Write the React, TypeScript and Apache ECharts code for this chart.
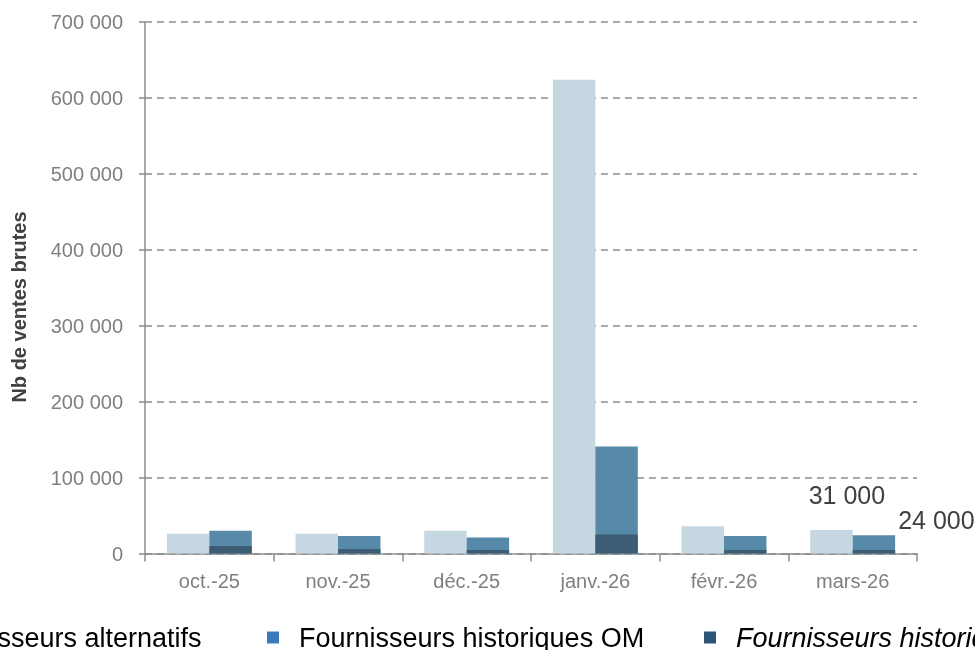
import React, { useEffect, useRef } from "react";
import * as echarts from "echarts";

const categories = ["oct.-25", "nov.-25", "déc.-25", "janv.-26", "févr.-26", "mars-26"];
const alternatifs = [26000, 26000, 30000, 624000, 36000, 31000];
const historiquesOM = [30000, 23000, 21000, 141000, 23000, 24000];
const historiquesSub = [10000, 6000, 4500, 25000, 4500, 4500];
const seriesNames = [
  "Fournisseurs alternatifs",
  "Fournisseurs historiques OM",
  "Fournisseurs historiques hors OM",
];
const labelIndex = 5;

const fmt = (v: number) => String(v).replace(/\B(?=(\d{3})+(?!\d))/g, " ");
const FONT = "'Liberation Sans', Arial, sans-serif";

export default function App() {
  const ref = useRef<HTMLDivElement>(null);
  useEffect(() => {
    if (!ref.current) return;
    const chart = echarts.init(ref.current, undefined, { renderer: "svg" });
    const axisGrey = "#8c8c8c";
    const labelStyle = (dx: number, dy: number) => ({
      show: true,
      position: "top",
      distance: 0,
      offset: [dx, dy],
      formatter: (p: any) => fmt(p.value),
      color: "#404040",
      fontSize: 25,
      fontFamily: FONT,
    });
    const legendBase = {
      orient: "horizontal",
      top: 624,
      padding: 0,
      itemWidth: 12,
      itemHeight: 12,
      icon: "rect",
      selectedMode: false,
      textStyle: { fontSize: 27, color: "#000", fontFamily: FONT, padding: [0, 0, 0, 15] },
    };
    chart.setOption({
      animation: false,
      textStyle: { fontFamily: FONT },
      grid: { left: 145, right: 58, top: 22, bottom: 96.5, containLabel: false },
      legend: [
        {
          ...legendBase,
          left: -111,
          data: [{ name: seriesNames[0], itemStyle: { color: "#c6d7e1" } }],
        },
        {
          ...legendBase,
          left: 267,
          data: [{ name: seriesNames[1], itemStyle: { color: "#3a7cbb" } }],
        },
        {
          ...legendBase,
          left: 704,
          data: [
            {
              name: seriesNames[2],
              itemStyle: { color: "#2b5478" },
              textStyle: { fontStyle: "italic" },
            },
          ],
        },
      ],
      xAxis: [
        {
          type: "category",
          data: categories,
          axisLine: { lineStyle: { color: axisGrey, width: 1.5 } },
          axisTick: { show: true, length: 8, lineStyle: { color: axisGrey, width: 1.5 } },
          axisLabel: { color: "#7f7f7f", fontSize: 20, margin: 17, fontFamily: FONT },
        },
        { type: "category", data: categories, show: false },
      ],
      yAxis: {
        type: "value",
        min: 0,
        max: 700000,
        interval: 100000,
        axisLine: { show: true, lineStyle: { color: axisGrey, width: 1.5 } },
        axisTick: { show: true, length: 6, lineStyle: { color: axisGrey, width: 1.5 } },
        axisLabel: {
          color: "#7f7f7f",
          fontSize: 20,
          margin: 22,
          fontFamily: FONT,
          formatter: (v: number) => fmt(v),
        },
        splitLine: { lineStyle: { color: axisGrey, type: [7, 5], width: 1.5 } },
      },
      graphic: [
        {
          type: "text",
          x: 19,
          y: 307,
          rotation: Math.PI / 2,
          style: {
            text: "Nb de ventes brutes",
            fontSize: 20,
            fontWeight: "bold",
            fill: "#404040",
            fontFamily: FONT,
            textAlign: "center",
            textVerticalAlign: "middle",
          },
        },
      ],
      series: [
        {
          name: seriesNames[0],
          type: "bar",
          xAxisIndex: 0,
          barGap: "0%",
          barCategoryGap: "34%",
          itemStyle: { color: "#c6d7e1" },
          data: alternatifs.map((v, i) =>
            i === labelIndex ? { value: v, label: labelStyle(15.5, -22) } : v
          ),
        },
        {
          name: seriesNames[1],
          type: "bar",
          xAxisIndex: 0,
          barGap: "0%",
          barCategoryGap: "34%",
          itemStyle: { color: "#5789a8" },
          data: historiquesOM.map((v, i) =>
            i === labelIndex ? { value: v, label: labelStyle(62.5, -3) } : v
          ),
        },
        {
          name: "__spacer",
          type: "bar",
          xAxisIndex: 1,
          barGap: "0%",
          barCategoryGap: "34%",
          data: categories.map(() => null),
        },
        {
          name: seriesNames[2],
          type: "bar",
          xAxisIndex: 1,
          barGap: "0%",
          barCategoryGap: "34%",
          itemStyle: { color: "#3d5d75" },
          data: historiquesSub,
        },
      ],
    });
    return () => chart.dispose();
  }, []);
  return (
    <div
      ref={ref}
      style={{ position: "fixed", left: 0, top: 0, width: 975, height: 650 }}
    />
  );
}
